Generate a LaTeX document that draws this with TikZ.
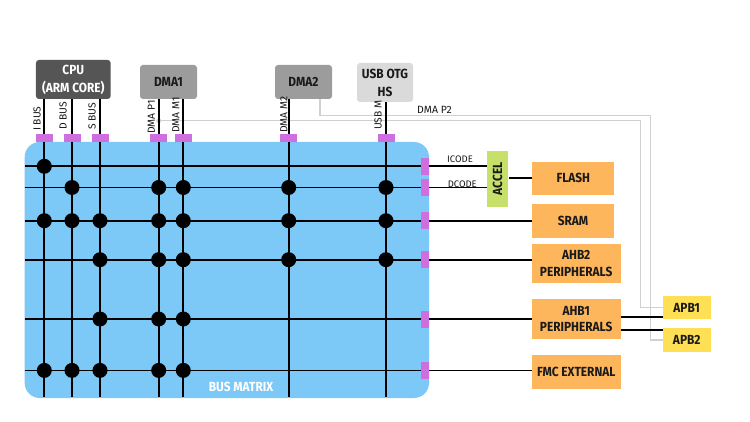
\documentclass[tikz,border=0pt]{standalone}
\usepackage{fontspec}
\setmainfont{Fira Sans}
\newfontfamily\lblfont[FakeStretch=0.9]{Fira Sans}
\definecolor{cpuc}{HTML}{555555}
\definecolor{dmac}{HTML}{9C9C9C}
\definecolor{usbc}{HTML}{DADADA}
\definecolor{busc}{HTML}{7CC8F6}
\definecolor{tabc}{HTML}{CF6FDF}
\definecolor{accc}{HTML}{C6E06A}
\definecolor{orgc}{HTML}{FDB65B}
\definecolor{apbc}{HTML}{FFE055}
\definecolor{glc}{HTML}{D0D0D0}
\definecolor{txtc}{HTML}{1A1A1A}
\begin{document}
\begin{tikzpicture}[x=1pt,y=-1pt,
  box/.style={inner sep=0pt, align=center, text=txtc, font=\lblfont\bfseries\fontsize{13.2}{16.5}\selectfont},
  srcbox/.style={box, rounded corners=3pt, font=\lblfont\bfseries\fontsize{13.2}{18}\selectfont},
  tgt/.style={box, fill=orgc},
  apb/.style={box, fill=apbc},
  tabv/.style={fill=tabc, minimum width=17pt, minimum height=8pt, inner sep=0pt},
  tabh/.style={fill=tabc, minimum width=8pt, minimum height=17pt, inner sep=0pt},
  bus/.style={line width=1.7pt, black},
  gl/.style={glc, line width=1.2pt},
  dot/.style={circle, fill=black, minimum size=15pt, inner sep=0pt},
  blab/.style={rotate=90, anchor=south west, inner sep=0pt, text=txtc, font=\fontsize{10.3}{10}\selectfont},
  slab/.style={inner sep=0pt, text=txtc, font=\fontsize{9.5}{9}\selectfont}
]
\useasboundingbox (0,0) rectangle (750,422);
\fill[white] (0,0) rectangle (750,422);

% bus matrix
\node[fill=busc, rounded corners=15pt, minimum width=404.3pt, minimum height=256pt, inner sep=0pt] (bm) at (226.85,270) {};
\node[font=\lblfont\bfseries\fontsize{13.2}{12}\selectfont, text=white, inner sep=0pt] (bml) at (241,386.5) {BUS MATRIX};

% sources
\node[srcbox, fill=cpuc, text=white, minimum width=74.7pt, minimum height=39pt] (cpu) at (73.3,79.5) {CPU\\(ARM CORE)};
\node[srcbox, fill=dmac, minimum width=57pt, minimum height=34pt] (dma1) at (168.5,82) {DMA1};
\node[srcbox, fill=dmac, minimum width=57pt, minimum height=34pt] (dma2) at (303.5,82) {DMA2};
\node[srcbox, fill=usbc, minimum width=56pt, minimum height=39pt] (usb) at (385,82.5) {USB OTG\\HS};

% targets
\node[box, fill=accc, minimum width=21.6pt, minimum height=56pt] (accel) at (497.5,178.7) {};
\node[box, rotate=90] (accelt) at (accel.center) {ACCEL};
\node[tgt, minimum width=82pt, minimum height=33.3pt] (flash) at (573.3,178.3) {FLASH};
\node[tgt, minimum width=82pt, minimum height=34.3pt] (sram) at (573,221.2) {SRAM};
\node[tgt, minimum width=89pt, minimum height=39.3pt] (ahb2) at (576.2,263.7) {AHB2\\PERIPHERALS};
\node[tgt, minimum width=89pt, minimum height=39.4pt] (ahb1) at (576.2,319) {AHB1\\PERIPHERALS};
\node[tgt, minimum width=88.7pt, minimum height=33.7pt] (fmc) at (576.3,371.8) {FMC EXTERNAL};
\node[apb, minimum width=48pt, minimum height=23.6pt] (apb1) at (686.7,307.5) {APB1};
\node[apb, minimum width=48pt, minimum height=23.4pt] (apb2) at (686.7,340) {APB2};

% coordinates of bus lines (bottom ends) and rows (left ends)
\coordinate (ib) at (44.3,397);
\coordinate (db) at (72,397);
\coordinate (sb) at (100,397);
\coordinate (p1) at (158.7,397);
\coordinate (m1) at (183.3,397);
\coordinate (m2) at (288.7,397);
\coordinate (um) at (386,397);
\coordinate (r1) at (24.7,166.3);
\coordinate (r2) at (24.7,187.5);
\coordinate (r3) at (24.7,220.7);
\coordinate (r4) at (24.7,259.7);
\coordinate (r5) at (24.7,319);
\coordinate (r6) at (24.7,370.4);
\coordinate (tabrow) at (0,138);

% gray DMA peripheral lines
\node[circle, fill=glc, minimum size=5pt, inner sep=0pt] (p1dot) at (158.7,120.7) {};
\coordinate (g1) at (640.7,120.7);
\coordinate (p2c) at (320,115.7);
\coordinate (g2) at (650.7,115.7);
\draw[gl] (p1dot.center) -- (g1) |- (apb1.west);
\draw[gl] (dma2.south -| p2c) -- (p2c) -- (g2) |- (apb2.west);
\node[inner sep=0pt, text=txtc, font=\fontsize{10.5}{10}\selectfont] (dp2) at (434.5,110) {DMA P2};

% vertical buses
\draw[bus] (cpu.south -| ib) -- (ib);
\draw[bus] (cpu.south -| db) -- (db);
\draw[bus] (cpu.south -| sb) -- (sb);
\draw[bus] (dma1.south -| p1) -- (p1);
\draw[bus] (dma1.south -| m1) -- (m1);
\draw[bus] (dma2.south -| m2) -- (m2);
\draw[bus] (usb.south -| um) -- (um);

% horizontal buses
\draw[bus] (r1) -- (r1 -| accel.west);
\draw[bus] (r2) -- (r2 -| accel.west);
\draw[bus] (r3) -- (r3 -| sram.west);
\draw[bus] (r4) -- (r4 -| ahb2.west);
\draw[bus] (r5) -- (r5 -| ahb1.west);
\draw[bus] (r6) -- (r6 -| fmc.west);
\draw[bus] (accel.east |- flash.west) -- (flash.west);
\draw[bus] ([yshift=2.3pt]ahb1.east) -- ([yshift=2.3pt]ahb1.east -| apb1.west);
\draw[bus] ([yshift=-11pt]ahb1.east) -- ([yshift=-11pt]ahb1.east -| apb2.west);
\node[slab] (icode) at (460,159.2) {ICODE};
\node[slab] (dcode) at (462.3,184) {DCODE};

% crossing dots
\foreach \c/\r in {ib/r1,
  db/r2, p1/r2, m1/r2, m2/r2, um/r2,
  ib/r3, db/r3, sb/r3, p1/r3, m1/r3, m2/r3, um/r3,
  sb/r4, p1/r4, m1/r4, m2/r4, um/r4,
  sb/r5, p1/r5, m1/r5,
  ib/r6, db/r6, sb/r6, p1/r6, m1/r6}
  \node[dot] (d-\c-\r) at (\c |- \r) {};

% tabs
\foreach \c in {ib,db,sb,p1,m1,m2,um}
  \node[tabv] (tt-\c) at (\c |- tabrow) {};
\foreach \r in {r1,r2,r3,r4,r5,r6}
  \node[tabh] (tr-\r) at (425,0 |- \r) {};

% bus labels
\node[blab] (l-ib) at (41,131) {I BUS};
\node[blab] (l-db) at (67,130) {D BUS};
\node[blab] (l-sb) at (96,130) {S BUS};
\node[blab] (l-p1) at (155,134) {DMA P1};
\node[blab] (l-m1) at (179.5,133) {DMA M1};
\node[blab] (l-m2) at (287.5,133) {DMA M2};
\node[blab] (l-um) at (382,130) {USB M};
\end{tikzpicture}
\end{document}
